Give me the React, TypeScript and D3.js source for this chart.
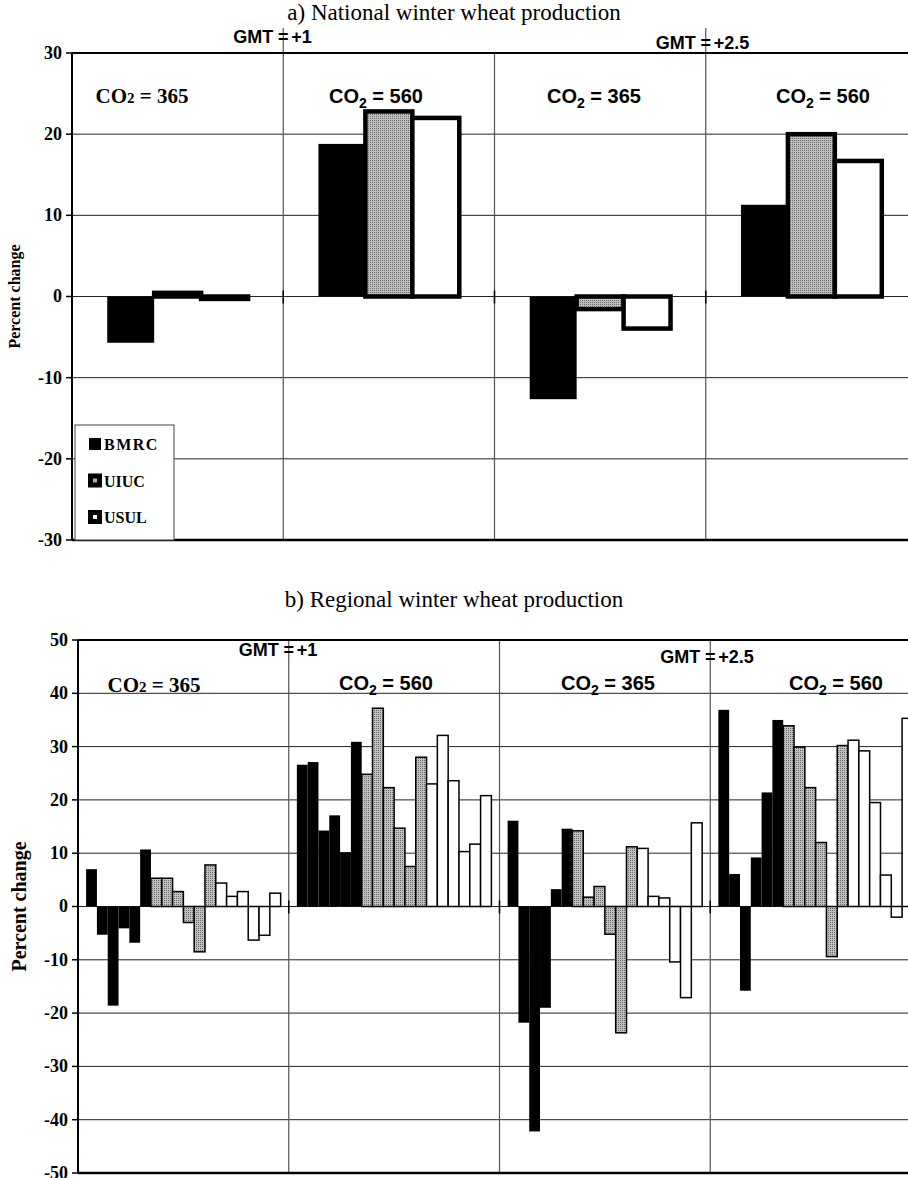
import React from "react";
import * as d3 from "d3";

// ---- data -------------------------------------------------------------
const groups = ["g1", "g2", "g3", "g4"];
const gmtLabels = ["+1", "+2.5"];
const co2Labels = ["365", "560", "365", "560"];
const models = ["BMRC", "UIUC", "USUL"];

// National production, percent change per scenario group
const nationalBMRC = [-5.7, 18.8, -12.65, 11.3];
const nationalUIUC = [0.45, 22.8, -1.55, 20.0];
const nationalUSUL = [-0.3, 22.0, -3.95, 16.7];

// Regional production, six regions per model within each scenario group
const regionalBMRC = [
  [7.0, -5.3, -18.6, -4.1, -6.8, 10.7],
  [26.6, 27.1, 14.25, 17.1, 10.2, 30.9],
  [16.1, -21.8, -42.2, -19.0, 3.25, 14.6],
  [36.9, 6.1, -15.8, 9.2, 21.4, 35.0],
];
const regionalUIUC = [
  [5.3, 5.3, 2.8, -3.0, -8.5, 7.8],
  [24.8, 37.2, 22.3, 14.7, 7.5, 28.0],
  [14.2, 1.75, 3.75, -5.2, -23.7, 11.2],
  [33.9, 29.9, 22.3, 12.0, -9.4, 30.2],
];
const regionalUSUL = [
  [4.4, 1.9, 2.8, -6.3, -5.4, 2.5],
  [23.0, 32.1, 23.6, 10.3, 11.7, 20.8],
  [10.9, 1.9, 1.6, -10.4, -17.1, 15.7],
  [31.2, 29.2, 19.5, 5.9, -2.0, 35.3],
];

const topTicks = [-30, -20, -10, 0, 10, 20, 30];
const bottomTicks = [-50, -40, -30, -20, -10, 0, 10, 20, 30, 40, 50];

// ---- styling ----------------------------------------------------------
const SERIF = "'Liberation Serif', 'Times New Roman', serif";
const SANS = "'Liberation Sans', Arial, Helvetica, sans-serif";
const modelFill: Record<string, string> = {
  BMRC: "#000",
  UIUC: "url(#halftone)",
  USUL: "#fff",
};

type Bar = { key: string; model: string; value: number; group: number };

type PanelProps = {
  title: string;
  titleY: number;
  x0: number;
  x1: number;
  yTop: number;
  yBottom: number;
  dividerTop: number;
  domain: [number, number];
  ticks: number[];
  bars: Bar[];
  barKeys: string[];
  strokeWidth: number;
  labelFont: number;
  axisTitleSize: number;
  axisTitleX: number;
  gmtY: [number, number];
  co2Y: number;
  co2YFirst: number;
  co2X: number[];
  legend?: boolean;
};

function Co2Label({ x, y, value, serif }: { x: number; y: number; value: string; serif: boolean }) {
  if (serif) {
    return (
      <text x={x} y={y} textAnchor="middle" fontFamily={SERIF} fontWeight="bold" fontSize={21}>
        CO<tspan fontSize={15}>2</tspan> = {value}
      </text>
    );
  }
  return (
    <text x={x} y={y} textAnchor="middle" fontFamily={SANS} fontWeight="bold" fontSize={20}>
      CO<tspan fontSize={14} dy={5}>2</tspan>
      <tspan dy={-5}>{" = " + value}</tspan>
    </text>
  );
}

function Panel(p: PanelProps) {
  const xGroup = d3.scaleBand<number>().domain(d3.range(groups.length)).range([p.x0, p.x1]).padding(0);
  const xBar = d3
    .scaleBand<string>()
    .domain(p.barKeys)
    .range([0, xGroup.bandwidth()])
    .paddingInner(0)
    .paddingOuter(0.75);
  const y = d3.scaleLinear().domain(p.domain).range([p.yBottom, p.yTop]);
  const y0 = y(0);

  const order = ["BMRC", "UIUC", "USUL"];
  const sorted = [...p.bars].sort((a, b) => order.indexOf(a.model) - order.indexOf(b.model));

  return (
    <g>
      <text x={454} y={p.titleY} textAnchor="middle" fontFamily={SERIF} fontSize={23}>
        {p.title}
      </text>

      {/* horizontal gridlines */}
      {p.ticks.map((t) => (
        <line key={"g" + t} x1={p.x0} x2={p.x1} y1={y(t)} y2={y(t)} stroke="#222" strokeWidth={1} />
      ))}
      {/* group dividers */}
      {d3.range(1, groups.length).map((i) => (
        <line
          key={"v" + i}
          x1={xGroup(i)!}
          x2={xGroup(i)!}
          y1={i % 2 === 1 ? p.dividerTop : p.yTop}
          y2={p.yBottom}
          stroke="#555"
          strokeWidth={1.2}
        />
      ))}
      {/* tick marks crossing the zero line at group boundaries */}
      {d3.range(1, groups.length).map((i) => (
        <line
          key={"t" + i}
          x1={xGroup(i)!}
          x2={xGroup(i)!}
          y1={y0 - 6}
          y2={y0 + 7}
          stroke="#000"
          strokeWidth={1.5}
        />
      ))}

      {/* bars */}
      {sorted.map((b) => {
        const bx = xGroup(b.group)! + xBar(b.key)!;
        const top = Math.min(y(b.value), y0);
        const h = Math.abs(y(b.value) - y0);
        const isBlack = b.model === "BMRC";
        return (
          <rect
            key={b.group + "-" + b.key}
            x={bx}
            y={top}
            width={xBar.bandwidth()}
            height={h}
            fill={modelFill[b.model]}
            stroke={isBlack ? "none" : "#000"}
            strokeWidth={isBlack ? 0 : p.strokeWidth}
          />
        );
      })}

      {/* frame */}
      <line x1={p.x0} x2={p.x1} y1={p.yTop} y2={p.yTop} stroke="#000" strokeWidth={2} />
      <line x1={p.x0} x2={p.x1} y1={p.yBottom} y2={p.yBottom} stroke="#000" strokeWidth={2.5} />
      <line x1={p.x0} x2={p.x0} y1={p.yTop} y2={p.yBottom} stroke="#000" strokeWidth={2} />

      {/* y axis ticks & labels */}
      {p.ticks.map((t) => (
        <g key={"yl" + t}>
          <line x1={p.x0 - 6} x2={p.x0} y1={y(t)} y2={y(t)} stroke="#000" strokeWidth={1.5} />
          <text
            x={p.x0 - 10}
            y={y(t)}
            dy="0.33em"
            textAnchor="end"
            fontFamily={SERIF}
            fontWeight="bold"
            fontSize={p.labelFont}
          >
            {t}
          </text>
        </g>
      ))}
      <text
        transform={`translate(${p.axisTitleX},${y0}) rotate(-90)`}
        textAnchor="middle"
        fontFamily={SERIF}
        fontWeight="bold"
        fontSize={p.axisTitleSize}
      >
        Percent change
      </text>

      {/* GMT labels, '=' sits on the divider between the two CO2 groups */}
      {gmtLabels.map((g, k) => {
        const dx = xGroup(2 * k + 1)!;
        const gy = p.gmtY[k];
        return (
          <g key={"gmt" + k} fontFamily={SANS} fontWeight="bold" fontSize={18}>
            <text x={dx - 10} y={gy} textAnchor="end">
              GMT
            </text>
            <text x={dx} y={gy} textAnchor="middle">
              =
            </text>
            <text x={dx + 8} y={gy} textAnchor="start">
              {g}
            </text>
          </g>
        );
      })}

      {co2Labels.map((c, i) => (
        <Co2Label
          key={"co2" + i}
          x={p.co2X[i]}
          y={i === 0 ? p.co2YFirst : p.co2Y}
          value={c}
          serif={i === 0}
        />
      ))}

      {p.legend && (
        <g>
          <rect x={75} y={425} width={99} height={115} fill="#fff" stroke="#444" strokeWidth={1} />
          {models.map((m, i) => {
            const ly = 444 + i * 36.5;
            return (
              <g key={"lg" + m}>
                {m === "BMRC" ? (
                  <rect x={89} y={ly - 6} width={12} height={12} fill="#000" />
                ) : (
                  <g>
                    <rect x={88} y={ly - 7} width={14} height={14} fill="#000" />
                    <rect x={93} y={ly - 2} width={4} height={4} fill={m === "UIUC" ? "#aaa" : "#fff"} />
                  </g>
                )}
                <text x={104} y={ly + 6} fontFamily={SERIF} fontWeight="bold" fontSize={16} letterSpacing={m === "BMRC" ? 1.5 : 0}>
                  {m}
                </text>
              </g>
            );
          })}
        </g>
      )}
    </g>
  );
}

export default function App() {
  const nationalBars: Bar[] = [];
  groups.forEach((_, gi) => {
    nationalBars.push({ key: "BMRC", model: "BMRC", value: nationalBMRC[gi], group: gi });
    nationalBars.push({ key: "UIUC", model: "UIUC", value: nationalUIUC[gi], group: gi });
    nationalBars.push({ key: "USUL", model: "USUL", value: nationalUSUL[gi], group: gi });
  });

  const regionalKeys: string[] = [];
  models.forEach((m) => d3.range(6).forEach((r) => regionalKeys.push(m + r)));
  const regionalBars: Bar[] = [];
  const regionalSets: Record<string, number[][]> = {
    BMRC: regionalBMRC,
    UIUC: regionalUIUC,
    USUL: regionalUSUL,
  };
  groups.forEach((_, gi) => {
    models.forEach((m) => {
      regionalSets[m][gi].forEach((v, r) => {
        regionalBars.push({ key: m + r, model: m, value: v, group: gi });
      });
    });
  });

  return (
    <svg
      width={908}
      height={1178}
      style={{ position: "absolute", left: 0, top: 0, background: "#fff" }}
    >
      <defs>
        <pattern id="halftone" width={2} height={2} patternUnits="userSpaceOnUse">
          <rect width={2} height={2} fill="#c0c0c0" />
          <rect width={1} height={1} fill="#6a6a6a" />
        </pattern>
      </defs>
      <rect width={908} height={1178} fill="#fff" />
      <Panel
        title="a) National winter wheat production"
        titleY={20}
        x0={72}
        x1={917}
        yTop={53}
        yBottom={540}
        dividerTop={28}
        domain={[-30, 30]}
        ticks={topTicks}
        bars={nationalBars}
        barKeys={models}
        strokeWidth={4.5}
        labelFont={18}
        axisTitleSize={16}
        axisTitleX={20}
        gmtY={[43, 49]}
        co2Y={103}
        co2YFirst={103}
        co2X={[142, 376, 594, 823]}
        legend
      />
      <Panel
        title="b) Regional winter wheat production"
        titleY={607}
        x0={78}
        x1={921}
        yTop={640}
        yBottom={1173}
        dividerTop={640}
        domain={[-50, 50]}
        ticks={bottomTicks}
        bars={regionalBars}
        barKeys={regionalKeys}
        strokeWidth={1.5}
        labelFont={18}
        axisTitleSize={20}
        axisTitleX={26}
        gmtY={[656, 663]}
        co2Y={690}
        co2YFirst={692}
        co2X={[154, 386, 608, 836]}
      />
    </svg>
  );
}
